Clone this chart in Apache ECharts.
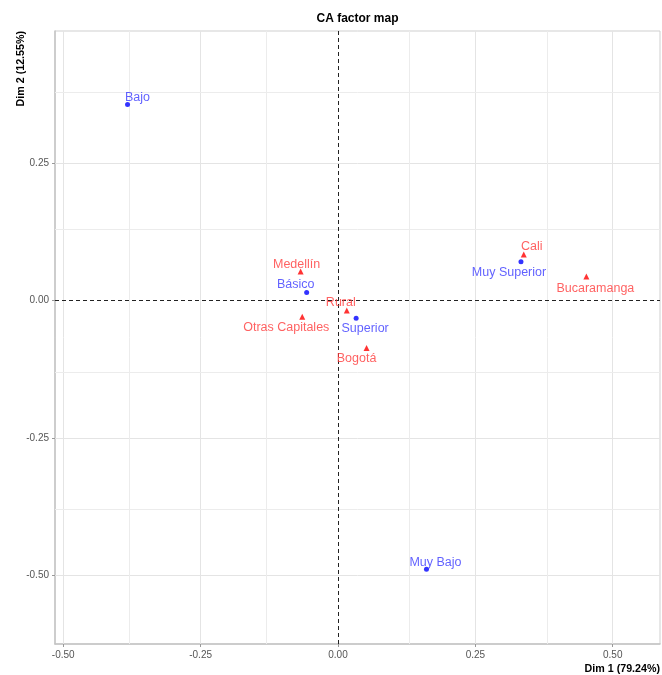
<!DOCTYPE html>
<html>
<head>
<meta charset="utf-8">
<script src="https://cdn.jsdelivr.net/npm/echarts@6/dist/echarts.min.js"></script>
<style>
html,body{margin:0;padding:0;background:#fff;}
#chart{width:662px;height:675px;}
</style>
</head>
<body>
<div id="chart"></div>
<script>
// Row categories (cities) - red triangles
var rowNames = ['Medellín', 'Otras Capitales', 'Rural', 'Bogotá', 'Cali', 'Bucaramanga'];
var rowDim1  = [-0.068, -0.065, 0.016, 0.052, 0.338, 0.452];
var rowDim2  = [0.053, -0.029, -0.018, -0.086, 0.084, 0.044];

// Column categories (levels) - blue points
var colNames = ['Bajo', 'Básico', 'Superior', 'Muy Superior', 'Muy Bajo'];
var colDim1  = [-0.383, -0.057, 0.033, 0.333, 0.161];
var colDim2  = [0.357, 0.015, -0.032, 0.071, -0.489];

// Axis ticks
var xTicks = [-0.50, -0.25, 0.00, 0.25, 0.50];
var yTicks = [-0.50, -0.25, 0.00, 0.25];
var xMinorGrid = [-0.375, -0.125, 0.125, 0.375];
var yMinorGrid = [-0.625, -0.375, -0.125, 0.125, 0.375];

// Label placement (pixel offsets from the marker)
var rowLabelOffset = [[-4, -7], [-16, 11], [-6, -8], [-10, 11], [8, -8], [9, 12]];
var colLabelOffset = [[10, -7], [-11, -8], [9, 10], [-12, 11], [9, -7]];

var FONT = '"Liberation Sans", Arial, Helvetica, sans-serif';
var chart = echarts.init(document.getElementById('chart'), null, {renderer: 'canvas'});

function pts(names, xs, ys) {
  return names.map(function (n, i) {
    return {name: n, value: [xs[i], ys[i]]};
  });
}
function layoutFor(offs) {
  return function (params) {
    var o = offs[params.dataIndex] || [0, 0];
    return {dx: o[0], dy: o[1], hideOverlap: false};
  };
}

var gridLines = [];
xTicks.forEach(function (v) { if (v !== 0) gridLines.push({xAxis: v, lineStyle: {color: '#e4e4e4', width: 1, type: 'solid'}}); });
yTicks.forEach(function (v) { if (v !== 0) gridLines.push({yAxis: v, lineStyle: {color: '#e4e4e4', width: 1, type: 'solid'}}); });
xMinorGrid.forEach(function (v) { gridLines.push({xAxis: v, lineStyle: {color: '#ececec', width: 1, type: 'solid'}}); });
yMinorGrid.forEach(function (v) { gridLines.push({yAxis: v, lineStyle: {color: '#ececec', width: 1, type: 'solid'}}); });

var option = {
  backgroundColor: '#ffffff',
  animation: false,
  textStyle: {fontFamily: FONT},
  grid: {left: 55, right: 2, top: 31, bottom: 31, show: true, borderColor: '#cfcfcf', borderWidth: 1, containLabel: false},
  xAxis: {
    type: 'value', min: -0.515, max: 0.586,
    splitLine: {show: false},
    axisLine: {show: true, onZero: false, lineStyle: {color: '#c4c4c4', width: 1.5}},
    axisTick: {show: true, length: 3, customValues: xTicks, lineStyle: {color: '#999'}},
    axisLabel: {customValues: xTicks, color: '#555', fontSize: 10, margin: 6, fontFamily: FONT,
      formatter: function (v) { return v.toFixed(2); }}
  },
  yAxis: {
    type: 'value', min: -0.625, max: 0.491,
    splitLine: {show: false},
    axisLine: {show: true, onZero: false, lineStyle: {color: '#c4c4c4', width: 1.5}},
    axisTick: {show: true, length: 3, customValues: yTicks, lineStyle: {color: '#999'}},
    axisLabel: {customValues: yTicks, color: '#555', fontSize: 10, margin: 6, fontFamily: FONT,
      formatter: function (v) { return v.toFixed(2); }}
  },
  series: [
    {
      type: 'scatter', data: [], silent: true, z: 1,
      markLine: {silent: true, symbol: 'none', label: {show: false}, animation: false, data: gridLines}
    },
    {
      type: 'scatter', data: [], silent: true, z: 2,
      markLine: {silent: true, symbol: 'none', label: {show: false}, animation: false,
        lineStyle: {color: '#222', width: 1, type: [4, 3]},
        data: [{xAxis: 0}, {yAxis: 0}]}
    },
    {
      name: 'rows', type: 'scatter', z: 5,
      symbol: 'triangle', symbolSize: 6,
      itemStyle: {color: '#ff0000'},
      label: {show: true, position: 'inside', formatter: '{b}', color: '#ff3a3a', fontSize: 12.5, fontFamily: FONT,
        align: 'center', verticalAlign: 'middle'},
      labelLayout: layoutFor(rowLabelOffset),
      data: pts(rowNames, rowDim1, rowDim2)
    },
    {
      name: 'cols', type: 'scatter', z: 5,
      symbol: 'circle', symbolSize: 5,
      itemStyle: {color: '#0000ff'},
      label: {show: true, position: 'inside', formatter: '{b}', color: '#3a3aff', fontSize: 12.5, fontFamily: FONT,
        align: 'center', verticalAlign: 'middle'},
      labelLayout: layoutFor(colLabelOffset),
      data: pts(colNames, colDim1, colDim2)
    }
  ],
  graphic: [
    {type: 'text', position: [357.5, 19], style: {text: 'CA factor map', font: 'bold 12px ' + FONT, fill: '#000', align: 'center', verticalAlign: 'middle'}},
    {type: 'text', position: [660, 669], style: {text: 'Dim 1 (79.24%)', font: 'bold 10.7px ' + FONT, fill: '#000', align: 'right', verticalAlign: 'middle'}},
    {type: 'text', position: [21, 31], rotation: Math.PI / 2, style: {text: 'Dim 2 (12.55%)', font: 'bold 10.7px ' + FONT, fill: '#000', align: 'right', verticalAlign: 'middle'}}
  ]
};
chart.setOption(option);
</script>
</body>
</html>
